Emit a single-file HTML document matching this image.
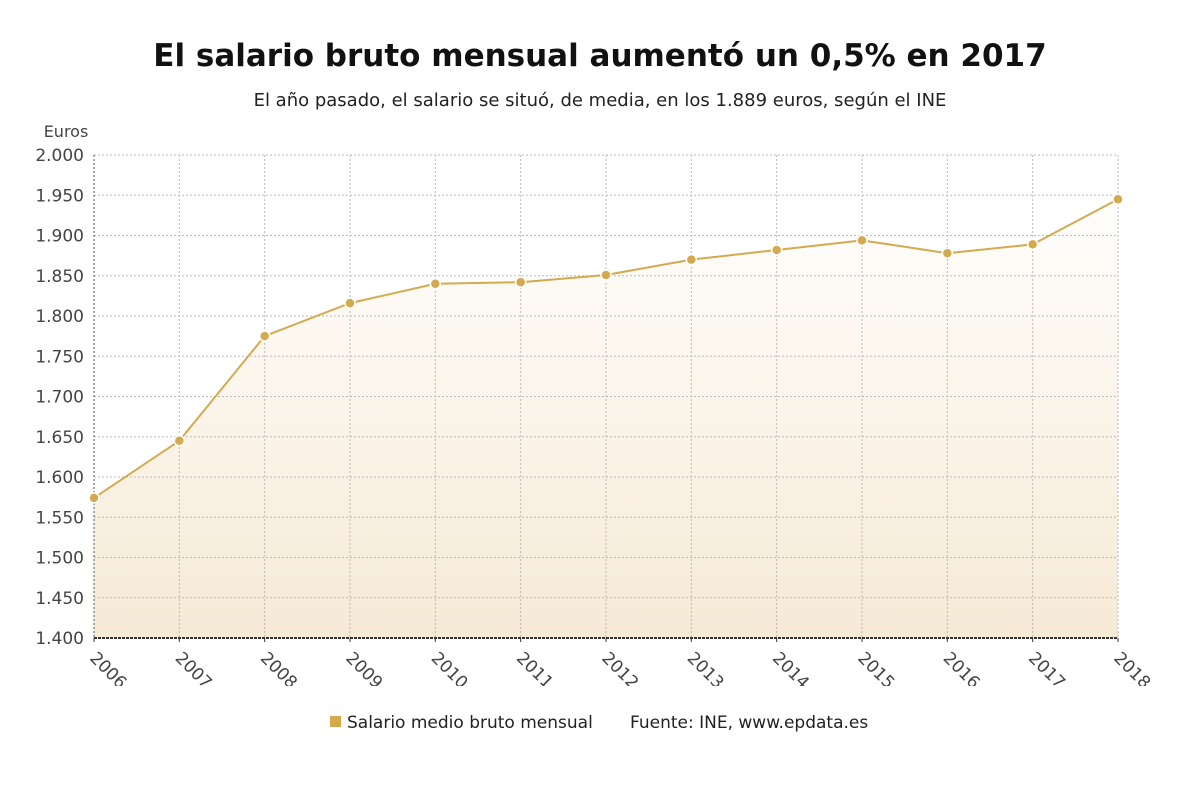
<!DOCTYPE html>
<html><head><meta charset="utf-8"><style>
body{margin:0;background:#fff;width:1200px;height:808px;overflow:hidden;font-family:"DejaVu Sans","Liberation Sans",sans-serif;}
</style></head><body>
<svg id="chart" width="1200" height="808">
<defs><linearGradient id="g" x1="0" y1="0" x2="0" y2="1"><stop offset="0" stop-color="#fffefc"/><stop offset="1" stop-color="#f6ead6"/></linearGradient>
<clipPath id="lab"><rect x="0" y="640" width="1200" height="46"/></clipPath></defs>
<text x="600" y="66" text-anchor="middle" font-size="31" font-weight="bold" fill="#111">El salario bruto mensual aumentó un 0,5% en 2017</text>
<text x="600" y="106" text-anchor="middle" font-size="18" fill="#222">El año pasado, el salario se situó, de media, en los 1.889 euros, según el INE</text>
<text x="66" y="137" text-anchor="middle" font-size="16" fill="#444">Euros</text>
<g id="grid"></g><g id="plot"></g><g id="xlabels" clip-path="url(#lab)"></g><g id="ylabels"></g>
<g><rect x="330" y="716" width="11" height="11" fill="#d4aa4e"/>
<text x="347" y="728" font-size="17" fill="#222">Salario medio bruto mensual</text></g>
<text x="630" y="728" font-size="17" fill="#222">Fuente: INE, www.epdata.es</text>
</svg>
<script>
const years=[2006,2007,2008,2009,2010,2011,2012,2013,2014,2015,2016,2017,2018];
const values=[1574,1645,1775,1816,1840,1842,1851,1870,1882,1894,1878,1889,1945];
const yTicks=[1400,1450,1500,1550,1600,1650,1700,1750,1800,1850,1900,1950,2000];
const yTickLabels=["1.400","1.450","1.500","1.550","1.600","1.650","1.700","1.750","1.800","1.850","1.900","1.950","2.000"];
const X0=94,X1=1118,Y0=638,Y1=155;
const xs=i=>X0+(X1-X0)*i/(years.length-1);
const ys=v=>Y0-(v-1400)/(2000-1400)*(Y0-Y1);
const NS="http://www.w3.org/2000/svg";
function mk(t,a,p){const e=document.createElementNS(NS,t);for(const k in a)e.setAttribute(k,a[k]);p.appendChild(e);return e;}
const grid=document.getElementById('grid'),plot=document.getElementById('plot'),xl=document.getElementById('xlabels'),yl=document.getElementById('ylabels');
let area="M"+xs(0)+","+Y0;values.forEach((v,i)=>area+=" L"+xs(i)+","+ys(v));area+=" L"+xs(values.length-1)+","+Y0+"Z";
const a=mk('path',{d:area,fill:'url(#g)'},grid);


yTicks.forEach((t,i)=>{const y=ys(t);
 mk('line',{x1:X0,x2:X1,y1:y,y2:y,stroke:'#bbb','stroke-dasharray':'2,2'},grid);
 const tx=mk('text',{x:84,y:y+6,'text-anchor':'end','font-size':17,fill:'#444'},yl);tx.textContent=yTickLabels[i];
 
 });
years.forEach((yr,i)=>{const x=xs(i);
 mk('line',{x1:x,x2:x,y1:Y1,y2:Y0,stroke:'#bbb','stroke-dasharray':'2,2'},grid);
 mk('line',{x1:x,x2:x,y1:Y0,y2:Y0+4,stroke:'#333'},grid);
 const tx=mk('text',{x:x-5,y:Y0+21,'font-size':17,fill:'#444',transform:`rotate(45 ${x-5} ${Y0+21})`},xl);tx.textContent=yr;
 
 });
mk('line',{x1:X0,x2:X1,y1:Y0,y2:Y0,stroke:'#333','stroke-width':2,'stroke-dasharray':'3,1'},grid);
mk('line',{x1:X0,x2:X0,y1:Y1,y2:Y0,stroke:'#555','stroke-dasharray':'2,2'},grid);
let d="";values.forEach((v,i)=>d+=(i?" L":"M")+xs(i)+","+ys(v));
const ln=mk('path',{d:d,fill:'none',stroke:'#d4aa4e','stroke-width':2},plot);


values.forEach((v,i)=>{const c=mk('circle',{cx:xs(i),cy:ys(v),r:5,fill:'#d4aa4e',stroke:'#fff','stroke-width':1.5},plot);
 
 });
</script>
</body></html>
